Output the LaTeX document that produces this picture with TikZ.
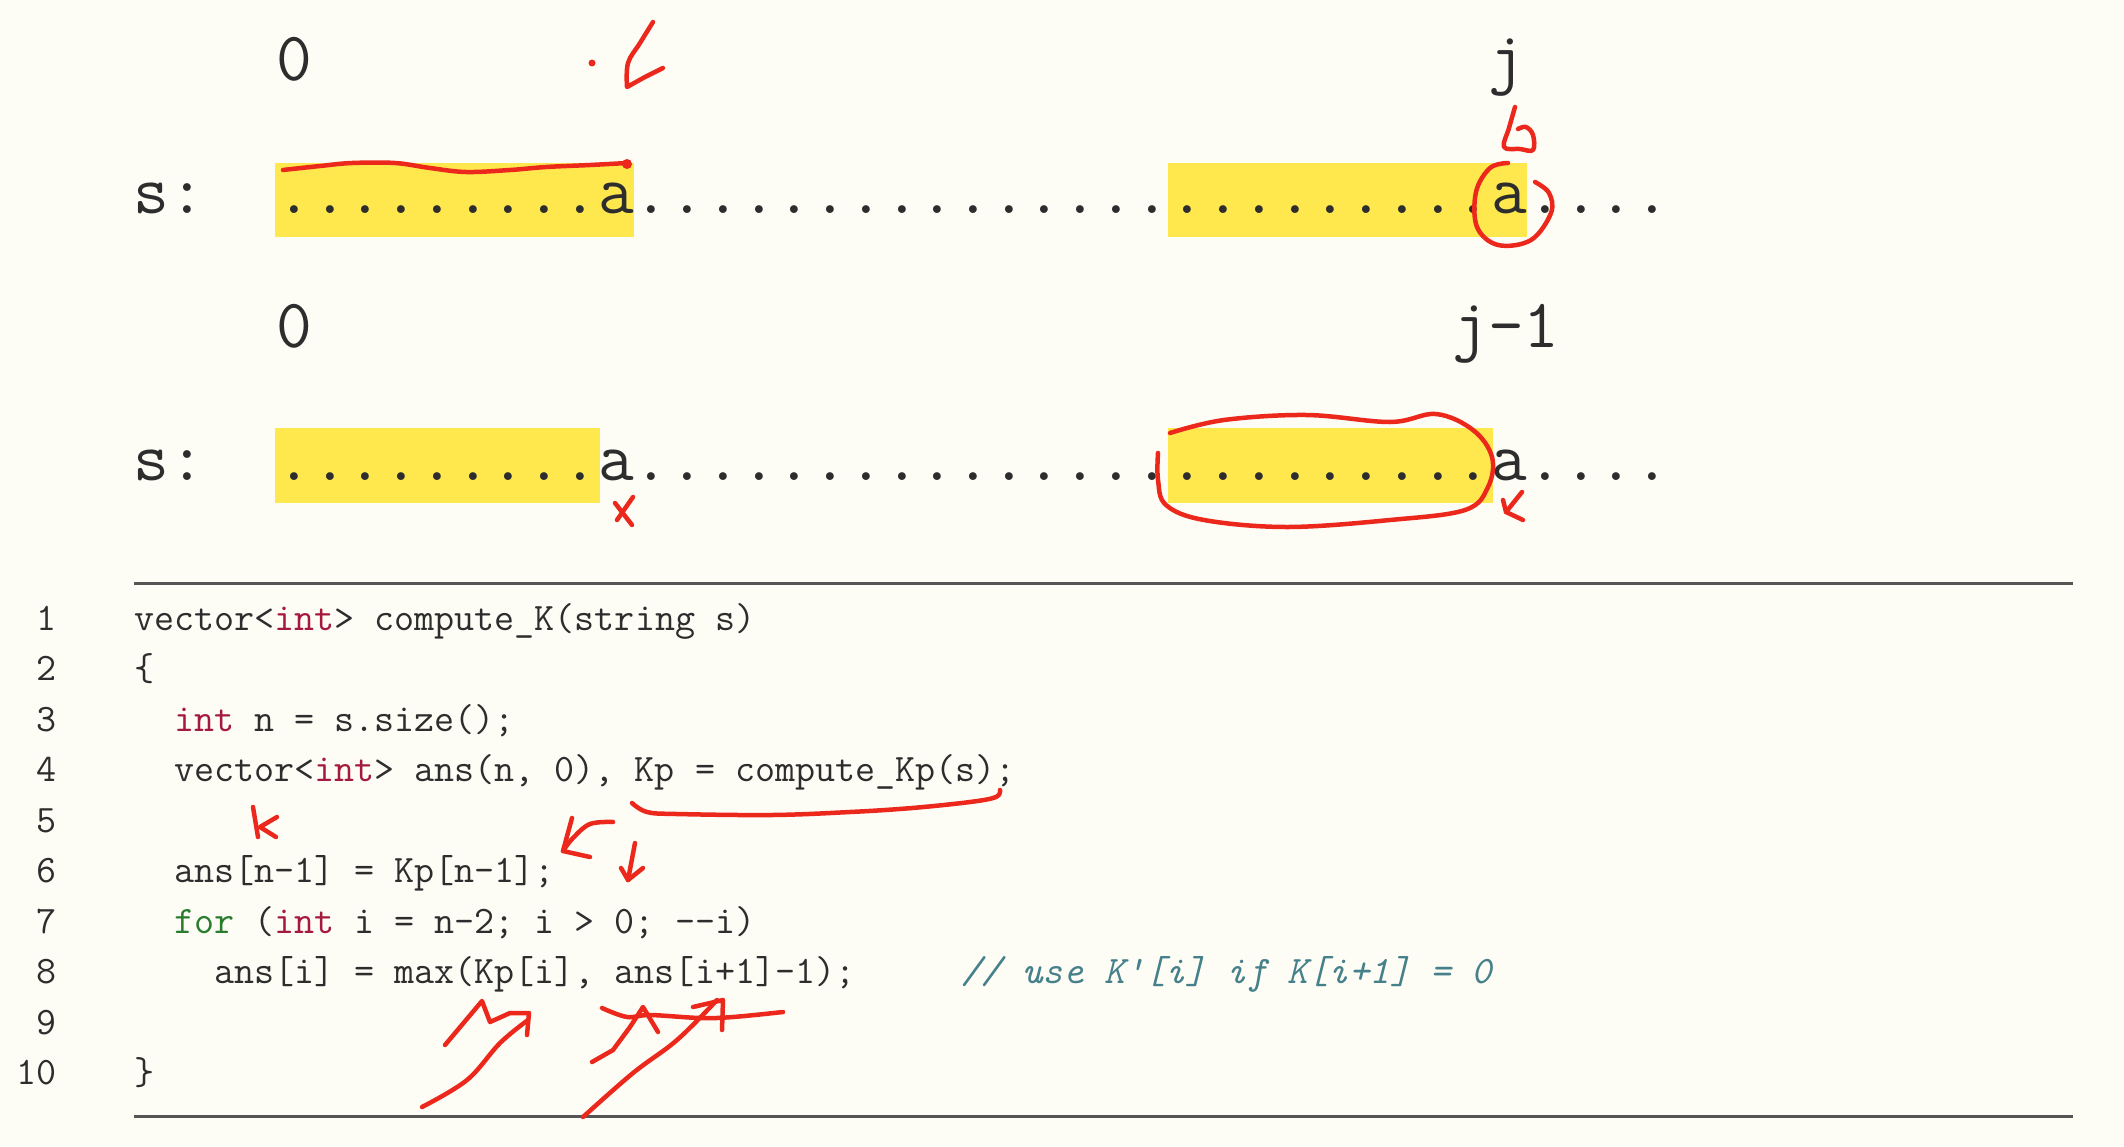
\documentclass[tikz,border=0pt]{standalone}
\usepackage{fontspec}
\definecolor{bg}{RGB}{253,253,246}
\definecolor{hl}{RGB}{254,232,78}
\definecolor{txt}{RGB}{45,45,45}
\definecolor{kw}{RGB}{165,25,60}
\definecolor{fc}{RGB}{40,125,45}
\definecolor{cm}{RGB}{70,128,138}
\definecolor{pen}{RGB}{236,40,28}
\definecolor{rulec}{RGB}{85,85,85}
\tikzset{
  big/.style={inner sep=0pt, text=txt, font=\fontsize{69.4}{80}\selectfont\ttfamily\frenchspacing},
  code/.style={inner sep=0pt, text=txt, font=\fontsize{38.9}{45}\selectfont\ttfamily\frenchspacing},
  cmt/.style={inner sep=0pt, text=cm, font=\fontsize{38.9}{45}\selectfont\ttfamily\itshape\frenchspacing},
  redpen/.style={draw=pen, line width=4.5pt, line cap=round, line join=round},
  rulel/.style={draw=rulec, line width=3pt},
}
\begin{document}
\begin{tikzpicture}[x=1pt,y=-1pt]
\useasboundingbox (0,0) rectangle (2124,1146);
\fill[bg] (0,0) rectangle (2124,1146);
% highlights
\fill[hl] (275,163) rectangle (634,237);
\fill[hl] (1168,163) rectangle (1527,237);
\fill[hl] (275,428) rectangle (600,503);
\fill[hl] (1168,428) rectangle (1493,503);
% row labels
\node[big, anchor=base] (z1) at (294,80) {0};
\node[big, anchor=base] (j1) at (1506,80) {j};
\node[big, anchor=base west] (s1) at (133.6,213) {s:};
\node[big, anchor=base west] (r1) at (276.2,213) {.........a........................a....};
\node[big, anchor=base] (z2) at (294,347) {0};
\node[big, anchor=base] (j2) at (1506,347) {j-1};
\node[big, anchor=base west] (s2) at (133.6,480) {s:};
\node[big, anchor=base west] (r2) at (276.2,480) {.........a........................a....};
% rules
\coordinate (ra) at (134,583); \coordinate (rb) at (2073,583);
\coordinate (rc) at (134,1116); \coordinate (rd) at (2073,1116);
\draw[rulel] (ra) -- (rb);
\draw[rulel] (rc) -- (rd);
% line numbers
\foreach \n in {1,...,10} {
  \node[code, anchor=base east] (ln\n) at (57,{630+50.5*(\n-1)}) {\n};
}
% code
\node[code, anchor=base west] (c1) at (134,630) {vector<\textcolor{kw}{int}> compute\_K(string s)};
\node[code, anchor=base west] (c2) at (134,680.5) {\{};
\node[code, anchor=base west] (c3) at (174,731) {\textcolor{kw}{int} n = s.size();};
\node[code, anchor=base west] (c4) at (174,781.5) {vector<\textcolor{kw}{int}> ans(n, 0), Kp = compute\_Kp(s);};
\node[code, anchor=base west] (c6) at (174,882.5) {ans[n-1] = Kp[n-1];};
\node[code, anchor=base west] (c7) at (174,933) {\textcolor{fc}{for} (\textcolor{kw}{int} i = n-2; i > 0; -{}-i)};
\node[code, anchor=base west] (c8) at (214,983.5) {ans[i] = max(Kp[i], ans[i+1]-1);};
\node[cmt, anchor=base west] (k8) at (961,983.5) {// use K'[i] if K[i+1] = 0};
\node[code, anchor=base west] (c10) at (134,1084.5) {\}};
% red annotations
\fill[pen] (592,63) circle (3.5);
\draw[redpen] plot[smooth, tension=0.6] coordinates {(653,22) (640,43) (628,63) (627,87)} -- (645,77) -- (663,68);
\draw[redpen] plot[smooth, tension=0.6] coordinates {(283,170) (320,166) (352,163) (395,163) (430,168) (466,172) (510,170) (546,167) (590,165) (627,163)};
\fill[pen] (627,164) circle (5);
\draw[redpen] plot[smooth, tension=0.6] coordinates {(1515,107) (1509,128) (1504,147) (1520,149) (1533,150) (1533,135) (1526,127) (1518,129)};
\draw[redpen] plot[smooth, tension=0.6] coordinates {(1508,163) (1490,168) (1476,192) (1477,227) (1498,245) (1531,240) (1551,213) (1549,193) (1535,182)};
\draw[redpen] (633,497) -- (617,520);
\draw[redpen] (615,503) -- (632,525);
\draw[redpen] plot[smooth, tension=0.6] coordinates {(1170,433) (1224,420) (1307,415) (1390,422) (1436,414) (1473,430) (1492,457) (1488,487) (1465,510) (1390,520) (1287,527) (1204,520) (1166,505) (1158,480) (1158,453)};
\draw[redpen] (1522,492) -- (1506,512);
\draw[redpen] (1503,500) -- (1506,512) -- (1523,520);
\draw[redpen] (253,807) -- (258,837);
\draw[redpen] (277,817) -- (260,827) -- (276,837);
\draw[redpen] plot[smooth, tension=0.6] coordinates {(632,803) (647,812) (677,814) (772,815) (850,812) (912,808) (970,802) (996,797) (1000,790)};
\draw[redpen] plot[smooth, tension=0.6] coordinates {(613,822) (590,824) (573,838) (563,851)};
\draw[redpen] (572,818) -- (563,851) -- (590,857);
\draw[redpen] (635,843) -- (628,880);
\draw[redpen] (621,868) -- (628,880) -- (643,868);
\draw[redpen] plot[smooth, tension=0.6] coordinates {(422,1107) (467,1080) (500,1043) (528,1020)};
\draw[redpen] (445,1045) -- (482,1001) -- (490,1022) -- (510,1013) -- (529,1013) -- (527,1035);
\draw[redpen] plot[smooth, tension=0.6] coordinates {(583,1117) (633,1073) (677,1040) (717,1000)};
\draw[redpen] (592,1062) -- (613,1050) -- (630,1027) -- (643,1007) -- (658,1032);
\draw[redpen] plot[smooth, tension=0.6] coordinates {(602,1008) (627,1017) (650,1015) (700,1018) (733,1017) (783,1012)};
\draw[redpen] (693,1007) -- (723,1000) -- (722,1030);
\end{tikzpicture}
\end{document}
